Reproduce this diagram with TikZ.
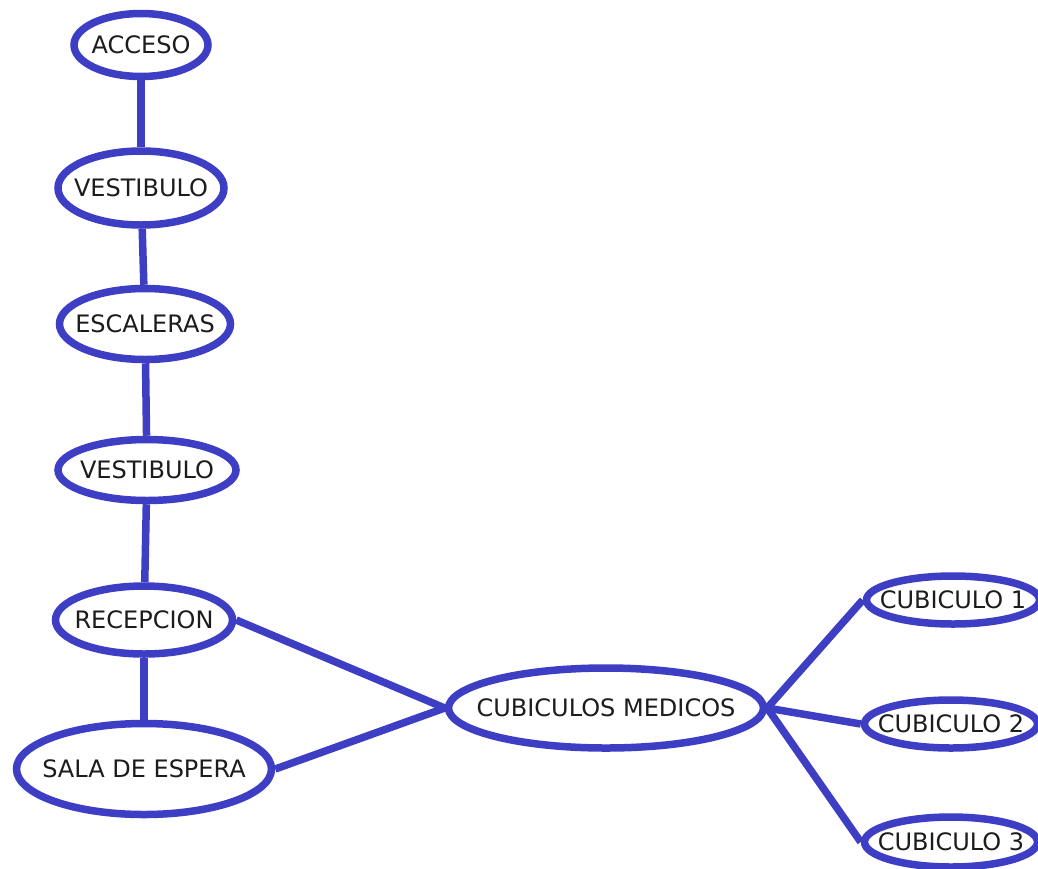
\documentclass[tikz,border=0pt]{standalone}
\usepackage{fontspec}
\setmainfont{DejaVu Sans}
\usetikzlibrary{shapes.geometric}
\definecolor{planblue}{RGB}{62,62,196}
\definecolor{plantext}{RGB}{28,28,28}
\begin{document}
\begin{tikzpicture}[x=1pt,y=-1pt,
  room/.style={ellipse, draw=planblue, line width=7.5pt, fill=white, inner sep=0pt,
    text height=17pt, text depth=0pt, text=plantext, font=\fontsize{24}{28}\selectfont},
  link/.style={draw=planblue, line width=7.5pt}]

\useasboundingbox (0,0) rectangle (1038,868);
\clip (0,0) rectangle (1038,868);

\node (acceso) [room, minimum width=134pt, minimum height=63pt] at (141,45) {\makebox[0pt]{ACCESO}};
\node (vestibulo) [room, minimum width=166pt, minimum height=74pt] at (141,188) {\makebox[0pt]{VESTIBULO}};
\node (escaleras) [room, minimum width=171pt, minimum height=71pt] at (145,324) {\makebox[0pt]{ESCALERAS}};
\node (vestibulob) [room, minimum width=178pt, minimum height=61pt] at (147,470) {\makebox[0pt]{VESTIBULO}};
\node (recepcion) [room, minimum width=177pt, minimum height=68pt] at (144,620) {\makebox[0pt]{RECEPCION}};
\node (sala) [room, minimum width=255pt, minimum height=91pt] at (144,769) {\makebox[0pt]{SALA DE ESPERA}};

\node (medicos) [room, minimum width=315pt, minimum height=80pt] at (606,708) {\makebox[0pt]{CUBICULOS MEDICOS}};
\node (cuba) [room, minimum width=173pt, minimum height=48pt] at (953,600) {\makebox[0pt]{CUBICULO 1}};
\node (cubb) [room, minimum width=173pt, minimum height=48pt] at (951,724) {\makebox[0pt]{CUBICULO 2}};
\node (cubc) [room, minimum width=173pt, minimum height=50pt] at (951,842) {\makebox[0pt]{CUBICULO 3}};

\draw [link] (acceso) -- (vestibulo);
\draw [link] (vestibulo) -- (escaleras);
\draw [link] (escaleras) -- (vestibulob);
\draw [link] (vestibulob) -- (recepcion);
\draw [link] (recepcion) -- (sala);

\draw [link] (recepcion.east) -- (medicos.west);
\draw [link] (sala.east) -- (medicos.west);
\draw [link] (medicos.east) -- (cuba.west);
\draw [link] (medicos.east) -- (cubb.west);
\draw [link] (medicos.east) -- (cubc.west);

\end{tikzpicture}
\end{document}
